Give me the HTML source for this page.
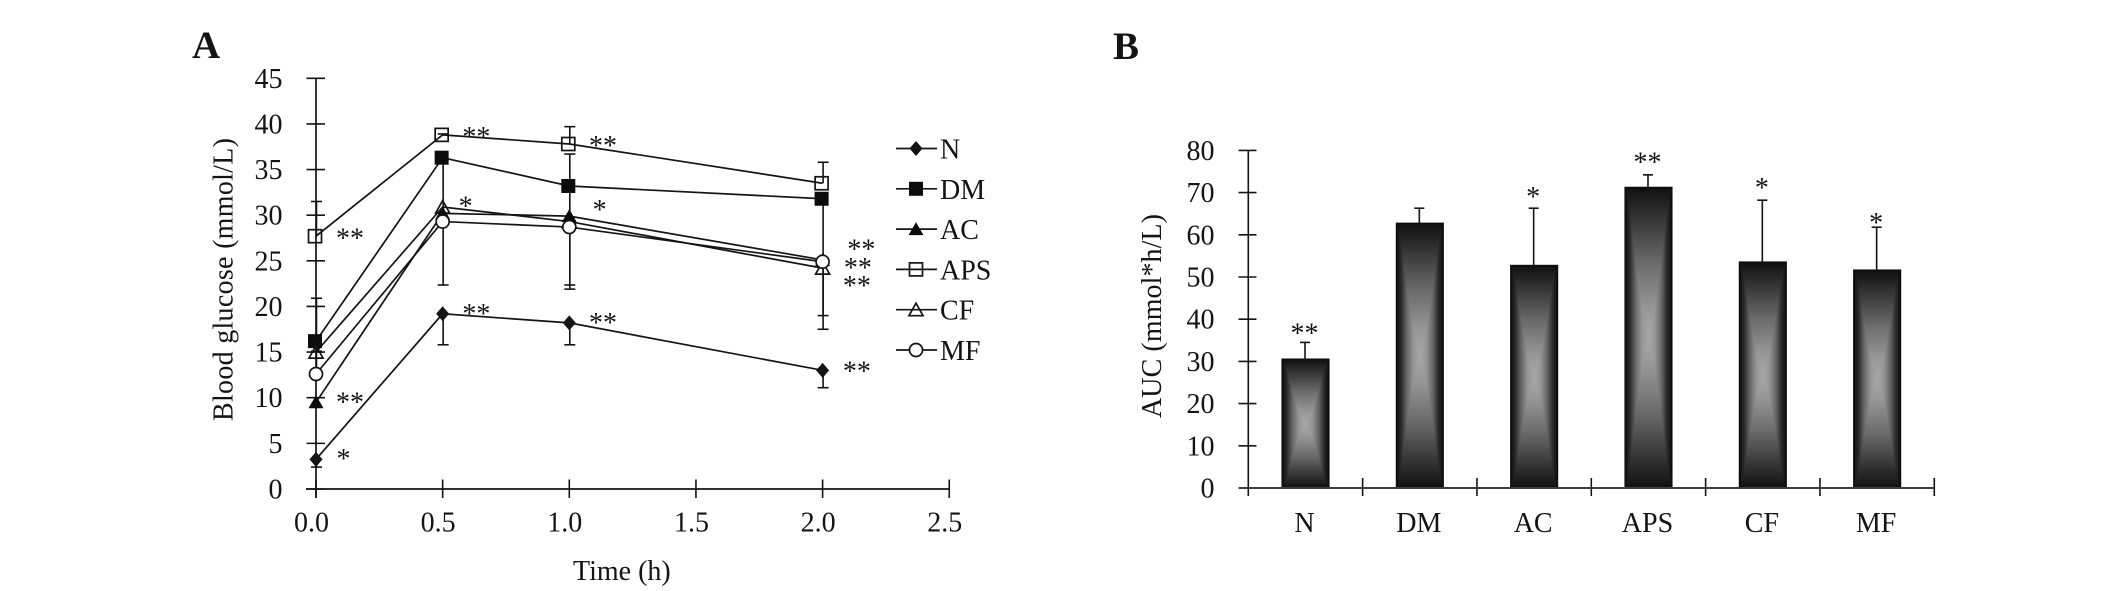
<!DOCTYPE html>
<html lang="en">
<head>
<meta charset="utf-8">
<title>Blood glucose and AUC charts</title>
<style>
html,body{margin:0;padding:0;background:#fff;}
svg{display:block;}
text{font-family:"Liberation Serif","DejaVu Serif",serif;fill:#141414;font-size:28px;}
</style>
</head>
<body>
<svg id="figure" width="2126" height="591" viewBox="0 0 2126 591" xmlns="http://www.w3.org/2000/svg">
  <defs>
    <linearGradient id="bar-h" x1="0" y1="0" x2="1" y2="0">
      <stop offset="0" stop-color="#0e0e0e"/>
      <stop offset="0.1" stop-color="#2a2a2a"/>
      <stop offset="0.22" stop-color="#666"/>
      <stop offset="0.36" stop-color="#969696"/>
      <stop offset="0.5" stop-color="#a8a8a8"/>
      <stop offset="0.64" stop-color="#969696"/>
      <stop offset="0.78" stop-color="#666"/>
      <stop offset="0.9" stop-color="#2a2a2a"/>
      <stop offset="1" stop-color="#0e0e0e"/>
    </linearGradient>
    <linearGradient id="bar-v" x1="0" y1="0" x2="0" y2="1">
      <stop offset="0" stop-color="#101010"/>
      <stop offset="0.1" stop-color="#333"/>
      <stop offset="0.25" stop-color="#6a6a6a"/>
      <stop offset="0.4" stop-color="#969696"/>
      <stop offset="0.5" stop-color="#a8a8a8"/>
      <stop offset="0.6" stop-color="#969696"/>
      <stop offset="0.75" stop-color="#6a6a6a"/>
      <stop offset="0.9" stop-color="#333"/>
      <stop offset="1" stop-color="#101010"/>
    </linearGradient>
  </defs>
  <g id="panel-a">
    <text x="192" y="58" font-weight="bold" style="font-size:39px">A</text>
    <text x="573" y="580">Time (h)</text>
    <text transform="translate(232.5 421) rotate(-90)" textLength="283">Blood glucose (mmol/L)</text>
  </g>
  <g id="panel-b">
    <text x="1113" y="59" font-weight="bold" style="font-size:39px">B</text>
    <text transform="translate(1161 418) rotate(-90)" textLength="204">AUC (mmol*h/L)</text>
  </g>
</svg>
<script>
// ---- Panel A data ----
const times = [0, 0.5, 1, 2];
const xTickValues = [0, 0.5, 1, 1.5, 2, 2.5];
const xTickLabels = ['0.0', '0.5', '1.0', '1.5', '2.0', '2.5'];
const yTickValues = [0, 5, 10, 15, 20, 25, 30, 35, 40, 45];
const seriesNames = ['N', 'DM', 'AC', 'APS', 'CF', 'MF'];
const glucoseN = [3.25, 19.2, 18.2, 13.0];
const glucoseDM = [16.2, 36.3, 33.2, 31.8];
const glucoseAC = [9.5, 30.2, 29.9, 25.1];
const glucoseAPS = [27.7, 38.8, 37.8, 33.5];
const glucoseCF = [15.0, 30.9, 29.3, 24.2];
const glucoseMF = [12.6, 29.3, 28.7, 24.9];
const errorLowN = [2.4, 15.8, 15.8, 11.1];
const errorLowDM = [15.1, 22.35, 21.9, 17.5];
const errorHighDM = [null, null, 36.7, null];
const errorHighAPS = [31.5, 38.9, 39.7, 35.8];
const errorHighMF = [20.9, null, null, null];
const errorLowMF = [null, null, 22.35, 19.0];
const starTimes = [0.079, 0.578, 1.078, 0.563, 1.092, 2.098, 2.084, 2.08, 2.08, 0.079, 0.081, 0.578, 1.078];
const starValues = [27.9, 39.0, 38.0, 31.4, 31.0, 26.7, 24.65, 22.7, 13.3, 9.94, 3.73, 19.6, 18.6];
const starLabels = ['**', '**', '**', '*', '*', '**', '**', '**', '**', '**', '*', '**', '**'];

// ---- Panel B data ----
const aucCategories = ['N', 'DM', 'AC', 'APS', 'CF', 'MF'];
const aucValues = [30.5, 62.7, 52.7, 71.2, 53.5, 51.6];
const aucErrorTops = [34.5, 66.3, 66.3, 74.2, 68.2, 61.8];
const aucStarLevels = [37.6, null, 69.9, 78.1, 72.0, 63.8];
const aucStarLabels = ['**', '', '*', '**', '*', '*'];
const aucTickValues = [0, 10, 20, 30, 40, 50, 60, 70, 80];

// ---- helpers and scales ----
const NS = 'http://www.w3.org/2000/svg';
const panelA = document.getElementById('panel-a');
const panelB = document.getElementById('panel-b');
function make(parent, tag, attrs, txt) {
  const n = document.createElementNS(NS, tag);
  for (const k in attrs) n.setAttribute(k, attrs[k]);
  if (txt !== undefined) n.textContent = txt;
  parent.appendChild(n);
  return n;
}
const INK = '#141414';
const xA = t => 316 + t * 253.3;
const yA = v => 489 - v * 9.127;
const bandB = i => 1248.3 + i * 114.33;
const xB = i => bandB(i) + 57.2;
const yB = v => 488 - v * 4.22;

function drawMarker(parent, kind, cx, cy) {
  let m;
  if (kind === 'N') {
    m = make(parent, 'polygon', {points: [cx, cy - 7.5, cx + 6.5, cy, cx, cy + 7.5, cx - 6.5, cy].join(' '), fill: INK});
  } else if (kind === 'DM') {
    m = make(parent, 'rect', {x: cx - 7, y: cy - 7, width: 14, height: 14, fill: '#0c0c0c'});
  } else if (kind === 'AC') {
    m = make(parent, 'polygon', {points: [cx, cy - 7, cx + 7.5, cy + 6, cx - 7.5, cy + 6].join(' '), fill: '#0c0c0c'});
  } else if (kind === 'APS') {
    m = make(parent, 'rect', {x: cx - 6.5, y: cy - 6.5, width: 13, height: 13, fill: 'none', stroke: INK, 'stroke-width': 1.7});
  } else if (kind === 'CF') {
    m = make(parent, 'polygon', {points: [cx, cy - 6.5, cx + 7, cy + 6, cx - 7, cy + 6].join(' '), fill: 'none', stroke: INK, 'stroke-width': 1.7});
  } else {
    m = make(parent, 'circle', {cx: cx, cy: cy, r: 6.5, fill: '#fff', stroke: INK, 'stroke-width': 1.7});
  }
  return m;
}

// ---- Panel A axes ----
const yAxisA = make(panelA, 'line', {x1: xA(0), y1: yA(45), x2: xA(0), y2: 498, stroke: INK, 'stroke-width': 1.7});


const xAxisA = make(panelA, 'line', {x1: 306, y1: yA(0), x2: xA(2.5), y2: yA(0), stroke: INK, 'stroke-width': 1.7});



yTickValues.forEach(v => {
  const tick = make(panelA, 'line', {x1: 306.5, y1: yA(v), x2: 325, y2: yA(v), stroke: INK, 'stroke-width': 1.6});
  
  
  const lab = make(panelA, 'text', {x: 282.5, y: yA(v) + 9.5, 'text-anchor': 'end'}, String(v));
  
  
});
xTickValues.forEach((t, i) => {
  const tick = make(panelA, 'line', {x1: xA(t), y1: 479.5, x2: xA(t), y2: 498, stroke: INK, 'stroke-width': 1.6});
  
  
  const lab = make(panelA, 'text', {x: xA(t) - 4.5, y: 531.5, 'text-anchor': 'middle'}, xTickLabels[i]);
  
  
});

// ---- Panel A error bars ----
const lowSets = [errorLowN, errorLowDM, errorLowMF];
const highSets = [errorHighDM, errorHighAPS, errorHighMF];
const lowBases = [glucoseN, glucoseDM, glucoseMF];
const highBases = [glucoseDM, glucoseAPS, glucoseMF];
function drawError(base, end, i) {
  if (end === null) return;
  const cx = xA(times[i]) + 0.5;
  const stem = make(panelA, 'line', {x1: cx, y1: yA(base), x2: cx, y2: yA(end), stroke: INK, 'stroke-width': 1.6});
  
  
  const cap = make(panelA, 'line', {x1: cx - 5.5, y1: yA(end), x2: cx + 5.5, y2: yA(end), stroke: INK, 'stroke-width': 1.6});
  
  
}
lowSets.forEach((set, s) => set.forEach((e, i) => drawError(lowBases[s][i], e, i)));
highSets.forEach((set, s) => set.forEach((e, i) => drawError(highBases[s][i], e, i)));

// ---- Panel A series ----
const allSeries = [glucoseAPS, glucoseDM, glucoseCF, glucoseAC, glucoseMF, glucoseN];
const allSeriesKinds = ['APS', 'DM', 'CF', 'AC', 'MF', 'N'];
allSeries.forEach((vals, s) => {
  const kind = allSeriesKinds[s];
  const path = make(panelA, 'polyline', {
    points: vals.map((v, i) => xA(times[i]) + ',' + yA(v)).join(' '),
    fill: 'none', stroke: INK, 'stroke-width': 1.7
  });
  
  
});
allSeries.forEach((vals, s) => {
  const kind = allSeriesKinds[s];
  vals.forEach((v, i) => {
    const dx = (kind === 'APS' || kind === 'DM') ? -1 : 0;
    const m = drawMarker(panelA, kind, xA(times[i]) + dx, yA(v));
    
    
  });
});

// ---- Panel A significance stars ----
starLabels.forEach((lab, i) => {
  const st = make(panelA, 'text', {x: xA(starTimes[i]), y: yA(starValues[i]) + 13}, lab);
  
  
});

// ---- Panel A legend ----
seriesNames.forEach((name, i) => {
  const ly = 148.5 + i * 40.3;
  const g = make(panelA, 'g', {});
  
  
  make(g, 'line', {x1: 896, y1: ly, x2: 937, y2: ly, stroke: INK, 'stroke-width': 1.7});
  drawMarker(g, name, 916, ly);
  make(g, 'text', {x: 940, y: ly + 10}, name);
});

// ---- Panel B axes ----
const yAxisB = make(panelB, 'line', {x1: bandB(0), y1: yB(80), x2: bandB(0), y2: 496, stroke: INK, 'stroke-width': 1.6});


aucTickValues.forEach(v => {
  const tick = make(panelB, 'line', {x1: 1238.5, y1: yB(v), x2: 1256.5, y2: yB(v), stroke: INK, 'stroke-width': 1.6});
  
  
  const lab = make(panelB, 'text', {x: 1214.5, y: yB(v) + 9.5, 'text-anchor': 'end'}, String(v));
  
  
});
for (let i = 1; i <= aucCategories.length; i++) {
  const tick = make(panelB, 'line', {x1: bandB(i), y1: 478, x2: bandB(i), y2: 496, stroke: INK, 'stroke-width': 1.6});
  
  
}

// ---- Panel B bars ----
aucCategories.forEach((cat, i) => {
  const bw = 46.5;
  const bx = xB(i) - bw / 2;
  const top = yB(aucValues[i]);
  const h = yB(0) - top;
  const stem = make(panelB, 'line', {x1: xB(i) - 0.5, y1: top, x2: xB(i) - 0.5, y2: yB(aucErrorTops[i]), stroke: INK, 'stroke-width': 1.6});
  
  
  const cap = make(panelB, 'line', {x1: xB(i) - 5.5, y1: yB(aucErrorTops[i]), x2: xB(i) + 4.5, y2: yB(aucErrorTops[i]), stroke: INK, 'stroke-width': 1.6});
  
  
  const g = make(panelB, 'g', {style: 'isolation:isolate'});
  
  
  make(g, 'rect', {x: bx, y: top, width: bw, height: h, fill: 'url(#bar-h)'});
  make(g, 'rect', {x: bx, y: top, width: bw, height: h, fill: 'url(#bar-v)', style: 'mix-blend-mode:darken'});
  make(g, 'rect', {x: bx, y: top, width: bw, height: h, fill: 'none', stroke: '#0c0c0c', 'stroke-width': 1.6});
  const lab = make(panelB, 'text', {x: xB(i) - 1, y: 532, 'text-anchor': 'middle'}, cat);
  
  
  if (aucStarLevels[i] !== null) {
    const st = make(panelB, 'text', {x: xB(i) - 1, y: yB(aucStarLevels[i]) + 13, 'text-anchor': 'middle'}, aucStarLabels[i]);
    
    
  }
});
const xAxisB = make(panelB, 'line', {x1: 1238.5, y1: yB(0), x2: bandB(aucCategories.length), y2: yB(0), stroke: '#3c3c3c', 'stroke-width': 2});


</script>
</body>
</html>
